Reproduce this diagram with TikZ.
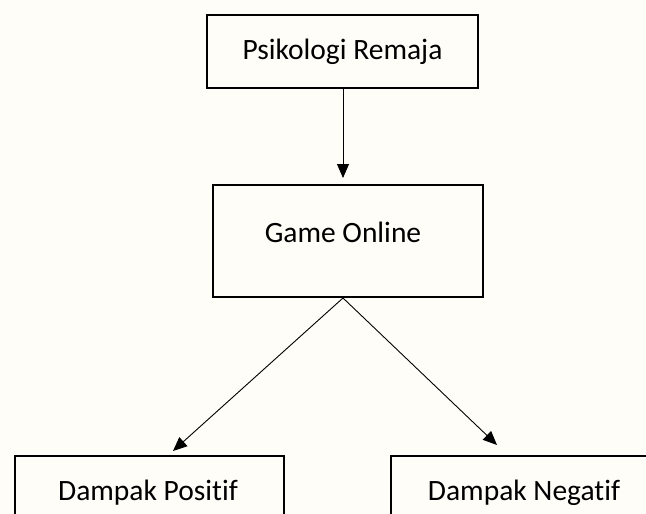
\documentclass[tikz,border=0pt]{standalone}
\usepackage{fontspec}
\setmainfont{Carlito}[Ligatures=NoCommon]
\usepackage{tikz}
\usetikzlibrary{arrows.meta,positioning}
\definecolor{kertas}{RGB}{254,253,247}

\begin{document}
\begin{tikzpicture}[x=1pt,y=-1pt,>={Triangle[length=14pt,width=12pt]},
  font=\fontsize{29.5}{35}\selectfont]
 \tikzset{kotak/.style={draw,line width=2pt,inner sep=0pt}}
 \tikzset{panah/.style={->,line width=0.9pt}}

 \useasboundingbox[fill=kertas] (0,0) rectangle (646,514);

   \node[kotak,minimum width=271,minimum height=73] (psi) at (342.5,51.5) {Psikologi Remaja};
   \node[kotak,minimum width=270,minimum height=112] (game) at (348,241) {};
   \node (gametext) at (343,232) {Game Online};
   \node[kotak,minimum width=269,minimum height=120,anchor=north west] (pos) at (14,455) {};
   \node[kotak,minimum width=269,minimum height=120,anchor=north west] (neg) at (390,455) {};
   \node (postext) at (148,493) {Dampak Positif};
   \node (negtext) at (524,493) {Dampak Negatif};

   \coordinate (tipa) at (343,178);
   \coordinate (tipb) at (173,451);
   \coordinate (tipc) at (497,445);

     \draw[panah] (psi.south -| tipa) -- (tipa);
     \draw[panah] (game.south -| tipa) -- (tipb);
     \draw[panah] (game.south -| tipa) -- (tipc);
\end{tikzpicture}
\end{document}
